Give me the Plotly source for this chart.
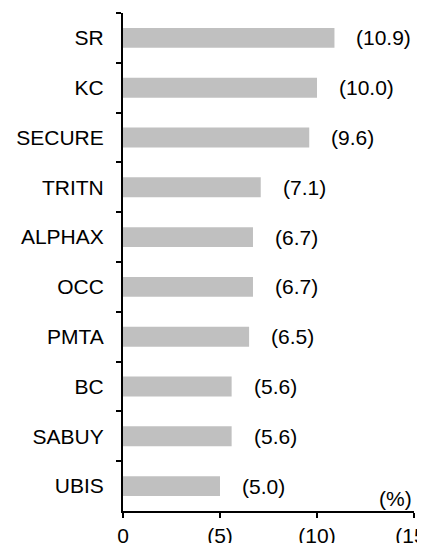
import plotly.graph_objects as go

categories = ["SR", "KC", "SECURE", "TRITN", "ALPHAX", "OCC", "PMTA", "BC", "SABUY", "UBIS"]
values = [10.9, 10.0, 9.6, 7.1, 6.7, 6.7, 6.5, 5.6, 5.6, 5.0]
value_labels = ["(10.9)", "(10.0)", "(9.6)", "(7.1)", "(6.7)", "(6.7)", "(6.5)", "(5.6)", "(5.6)", "(5.0)"]
x_tickvals = [0, 5, 10, 15]
x_ticktext = ["0", "(5)", "(10)", "(15)"]
unit_label = "(%)"

FONT = "Liberation Sans, Arial, sans-serif"
FS = 21

fig = go.Figure()
fig.add_trace(go.Bar(
    y=categories, x=values, orientation="h",
    marker=dict(color="#c0c0c0", line=dict(width=0)),
    width=0.4, hoverinfo="skip",
))

for c, v, t in zip(categories, values, value_labels):
    fig.add_annotation(x=v, y=c, text=t, showarrow=False, xanchor="left",
                       xshift=20, font=dict(family=FONT, size=FS, color="black"))

fig.add_annotation(x=1, y=0, xref="paper", yref="paper", text=unit_label,
                   showarrow=False, xanchor="right", yanchor="bottom", yshift=-1,
                   font=dict(family=FONT, size=FS, color="black"))

fig.update_layout(
    width=425, height=543,
    margin=dict(l=115, r=19, t=5, b=40),
    paper_bgcolor="white", plot_bgcolor="white",
    showlegend=False,
    font=dict(family=FONT, size=FS, color="black"),
    xaxis=dict(range=[0, 15], tickvals=x_tickvals, ticktext=x_ticktext,
               showgrid=False, zeroline=False, showline=True, linecolor="black",
               linewidth=2, ticks="outside", ticklen=5, tickwidth=2, tickcolor="black",
               automargin=False, ticklabeloverflow="allow",
               tickfont=dict(family=FONT, size=FS, color="black")),
    yaxis=dict(categoryorder="array", categoryarray=categories, autorange="reversed",
               showgrid=False, zeroline=False, showline=True, linecolor="black",
               linewidth=2, ticks="outside", ticklen=5, tickwidth=2, tickcolor="black",
               tickson="boundaries", ticklabelstandoff=13, automargin=False,
               tickfont=dict(family=FONT, size=FS, color="black")),
)

fig.write_html("out.html")
